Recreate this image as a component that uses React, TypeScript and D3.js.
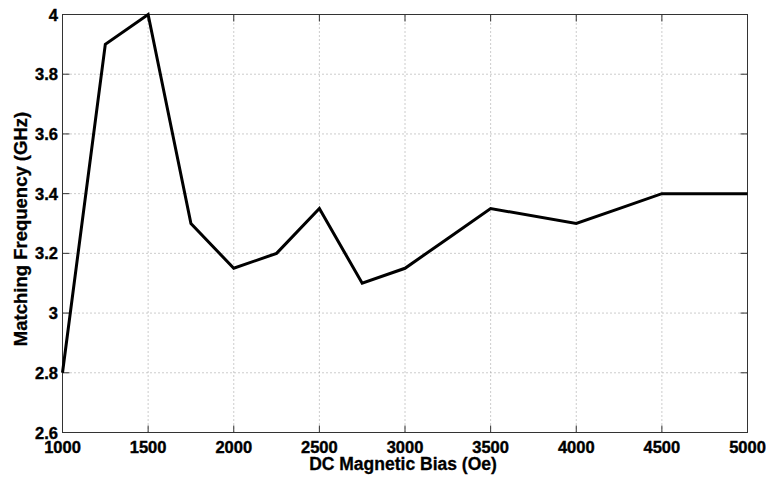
import React from 'react'
import * as d3 from 'd3'

const biasOe = [1000, 1250, 1500, 1750, 2000, 2250, 2500, 2750, 3000, 3250, 3500, 4000, 4250, 4500, 5000]
const freqGHz = [2.8, 3.9, 4.0, 3.3, 3.15, 3.2, 3.35, 3.1, 3.15, 3.25, 3.35, 3.3, 3.35, 3.4, 3.4]
const xTicks = [1000, 1500, 2000, 2500, 3000, 3500, 4000, 4500, 5000]
const yTicks = [2.6, 2.8, 3, 3.2, 3.4, 3.6, 3.8, 4]

const W = 766
const H = 478
const m = { left: 62.5, right: 18.5, top: 14.5, bottom: 45.5 }

export default function App() {
  const x = d3.scaleLinear().domain([1000, 5000]).range([m.left, W - m.right])
  const y = d3.scaleLinear().domain([2.6, 4]).range([H - m.bottom, m.top])
  const line = d3.line<number>().x((d, i) => x(biasOe[i])).y(d => y(d))
  const font = '"Liberation Sans", Arial, sans-serif'
  const x0 = x(1000), x1 = x(5000), y0 = y(2.6), y1 = y(4)

  return (
    <svg width={W} height={H} style={{ position: 'absolute', left: 0, top: 0, background: '#fff' }}>
      {/* grid */}
      <g stroke="#999" strokeWidth={1} strokeDasharray="1,3">
        {xTicks.slice(1, -1).map(t => <line key={t} x1={x(t)} x2={x(t)} y1={y0} y2={y1} />)}
        {yTicks.slice(1, -1).map(t => <line key={t} x1={x0} x2={x1} y1={y(t)} y2={y(t)} />)}
      </g>
      {/* ticks inside */}
      <g stroke="#333" strokeWidth={1}>
        {xTicks.map(t => (
          <g key={t}>
            <line x1={x(t)} x2={x(t)} y1={y0} y2={y0 - 7} />
            <line x1={x(t)} x2={x(t)} y1={y1} y2={y1 + 7} />
          </g>
        ))}
        {yTicks.map(t => (
          <g key={t}>
            <line x1={x0} x2={x0 + 7} y1={y(t)} y2={y(t)} />
            <line x1={x1} x2={x1 - 7} y1={y(t)} y2={y(t)} />
          </g>
        ))}
      </g>
      <rect x={x0} y={y1} width={x1 - x0} height={y0 - y1} fill="none" stroke="#333" strokeWidth={1} />
      <path d={line(freqGHz) ?? ''} fill="none" stroke="#000" strokeWidth={3} strokeLinejoin="miter" />
      {/* tick labels */}
      <g fontFamily={font} fontWeight="bold" fontSize={16.5} fill="#000" stroke="#000" strokeWidth={0.4}>
        {xTicks.map(t => (
          <text key={t} x={x(t)} y={y0 + 20} textAnchor="middle">{t}</text>
        ))}
        {yTicks.map(t => (
          <text key={t} x={x0 - 4.5} y={y(t) + 6} textAnchor="end">{d3.format('~g')(t)}</text>
        ))}
      </g>
      <g fontFamily={font} fontWeight="bold" fill="#000" stroke="#000" strokeWidth={0.3} textAnchor="middle">
        <text x={403} y={470} fontSize={17.5}>DC Magnetic Bias (Oe)</text>
        <text transform={`translate(27,229) rotate(-90)`} fontSize={18.5}>Matching Frequency (GHz)</text>
      </g>
    </svg>
  )
}
